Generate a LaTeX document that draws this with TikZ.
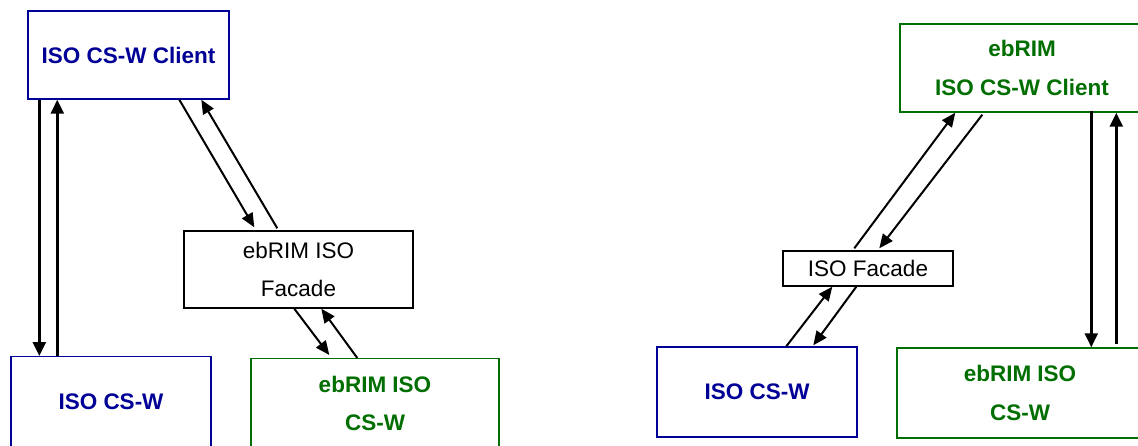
\documentclass[tikz,border=0pt]{standalone}
\usepackage{fontspec}
\setmainfont{Liberation Sans}
\usetikzlibrary{arrows.meta,calc}
\definecolor{isoblue}{RGB}{0,0,150}
\definecolor{isogreen}{RGB}{0,110,0}
\begin{document}
\begin{tikzpicture}[x=1pt,y=-1pt,
  box/.style={draw,line width=1.4pt,inner sep=0pt,align=center,
    font=\fontsize{22.5}{38.5}\selectfont},
  bluebox/.style={box,draw=isoblue,text=isoblue,font=\fontsize{22.5}{38.5}\selectfont\bfseries},
  greenbox/.style={box,draw=isogreen,text=isogreen,font=\fontsize{22.5}{38.5}\selectfont\bfseries},
  plainbox/.style={box,draw=black,text=black},
  bluetext/.style={text=isoblue,align=center,inner sep=0pt,font=\fontsize{22.5}{38.5}\selectfont\bfseries},
  greentext/.style={text=isogreen,align=center,inner sep=0pt,font=\fontsize{22.5}{38.5}\selectfont\bfseries},
  arr/.style={line width=2pt,-{Triangle[length=14pt,width=12pt]}},
  varr/.style={line width=2.6pt,-{Triangle[length=14pt,width=13pt]}}]
\useasboundingbox (0,0) rectangle (1138,445);
\clip (0,0) rectangle (1138,445);
% ---------- left diagram ----------
\node[bluebox,minimum width=201pt,minimum height=88pt] (lclient) at (128.5,55) {ISO CS-W Client};
\node[bluebox,minimum width=200pt,minimum height=110pt,anchor=north,
  label={[bluetext,yshift=10pt]center:ISO CS-W}] (lcsw) at (111,356) {};
\node[plainbox,minimum width=229pt,minimum height=77pt] (lfacade) at (298.5,269.5) {ebRIM ISO\\Facade};
\node[greenbox,minimum width=248pt,minimum height=110pt,anchor=north,
  label={[greentext,yshift=10pt]center:{ebRIM ISO\\CS-W}}] (lebrim) at (375,358) {};
\draw[varr] ([xshift=12pt]lclient.south west) -- ([xshift=12pt]lclient.south west |- lcsw.north);
\draw[varr] ([xshift=47pt]lcsw.north west) -- ([xshift=47pt]lcsw.north west |- lclient.south);
\draw[arr] ([xshift=152pt]lclient.south west) -- ([xshift=71pt,yshift=3pt]lfacade.north west);
\draw[arr] ([xshift=94pt,yshift=2pt]lfacade.north west) -- ([xshift=174pt]lclient.south west);
\draw[arr] ([xshift=111pt]lfacade.south west) -- ([xshift=79pt,yshift=3pt]lebrim.north west);
\draw[arr] ([xshift=107pt]lebrim.north west) -- ([xshift=138pt]lfacade.south west);
% ---------- right diagram ----------
\node[greenbox,minimum width=244pt,minimum height=88pt] (rclient) at (1022,68) {ebRIM\\ISO CS-W Client};
\node[plainbox,minimum width=170pt,minimum height=35pt] (rfacade) at (868,268.5) {ISO Facade};
\node[bluebox,minimum width=200pt,minimum height=90pt] (rcsw) at (757,392) {ISO CS-W};
\node[greenbox,minimum width=246pt,minimum height=90pt] (rebrim) at (1020,393) {ebRIM ISO\\CS-W};
\draw[arr] ([xshift=72pt,yshift=2pt]rfacade.north west) -- ([xshift=56pt]rclient.south west);
\draw[arr] ([xshift=83pt,yshift=-2pt]rclient.south west) -- ([xshift=97pt,yshift=2pt]rfacade.north west);
\draw[arr] ([xshift=130pt]rcsw.north west) -- ([xshift=50pt]rfacade.south west);
\draw[arr] ([xshift=74pt]rfacade.south west) -- ([xshift=157pt,yshift=1pt]rcsw.north west);
\draw[varr] ([xshift=192pt,yshift=2pt]rclient.south west) -- ([xshift=192pt]rclient.south west |- rebrim.north);
\draw[varr] ([xshift=220pt,yshift=3pt]rebrim.north west) -- ([xshift=220pt]rebrim.north west |- rclient.south);
\end{tikzpicture}
\end{document}
